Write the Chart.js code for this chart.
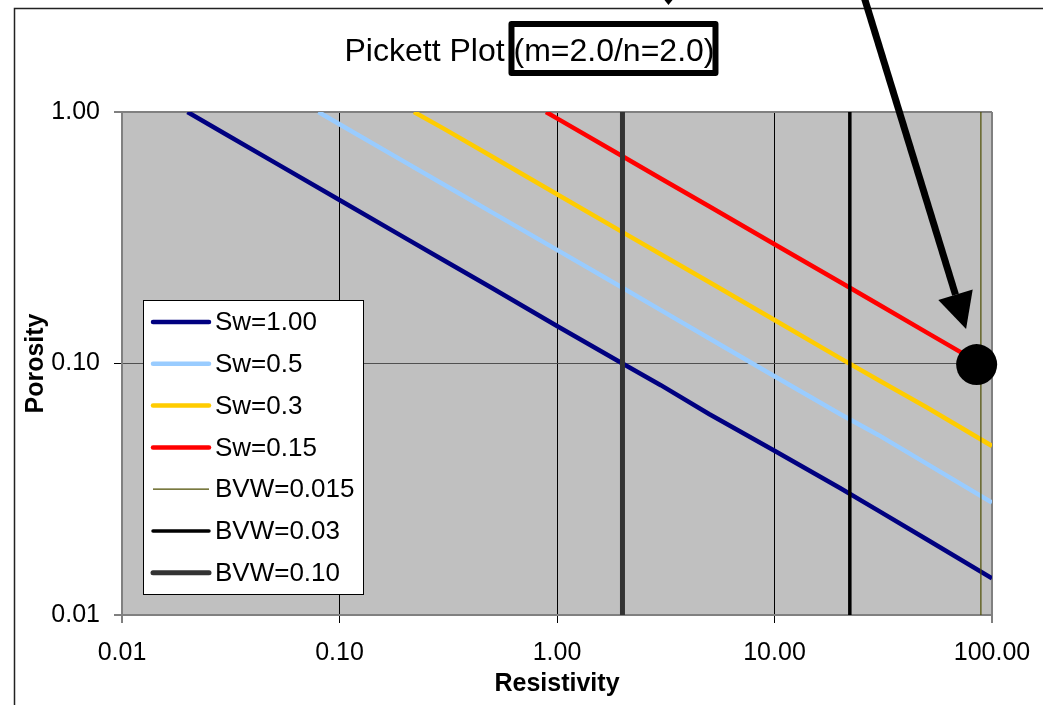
<!DOCTYPE html>
<html>
<head>
<meta charset="utf-8">
<title>Pickett Plot</title>
<script src="https://cdn.jsdelivr.net/npm/chart.js@4.4.1/dist/chart.umd.min.js"></script>
<style>
  html, body { margin: 0; padding: 0; background: #fff; }
  #wrap { width: 1043px; height: 705px; position: relative; }
</style>
</head>
<body>
<div id="wrap"><canvas id="chart"></canvas></div>
<script>
// Values: resistivity (x) vs porosity (y)
const sw100Rt  = [0.02, 0.03, 0.05, 0.1, 0.2, 0.3, 0.5, 1, 2, 3, 5, 10, 20, 30, 50, 100];
const sw100Phi = [1.00, 0.816, 0.632, 0.447, 0.316, 0.258, 0.200, 0.141, 0.100, 0.082, 0.063, 0.045, 0.032, 0.026, 0.020, 0.014];

const sw50Rt  = [0.08, 0.1, 0.2, 0.3, 0.5, 1, 2, 3, 5, 10, 20, 30, 50, 100];
const sw50Phi = [1.00, 0.894, 0.632, 0.516, 0.400, 0.283, 0.200, 0.163, 0.126, 0.089, 0.063, 0.052, 0.040, 0.028];

const sw30Rt  = [0.22, 0.3, 0.5, 1, 2, 3, 5, 10, 20, 30, 50, 100];
const sw30Phi = [1.00, 0.861, 0.667, 0.471, 0.333, 0.272, 0.211, 0.149, 0.105, 0.086, 0.067, 0.047];

const sw15Rt  = [0.89, 1, 2, 3, 5, 10, 20, 30, 50, 80];
const sw15Phi = [1.00, 0.943, 0.667, 0.544, 0.422, 0.298, 0.211, 0.172, 0.133, 0.105];

// bulk volume water lines are vertical on this plot
const bvw015Rt = [88.9, 88.9];
const bvw03Rt  = [22.2, 22.2];
const bvw10Rt  = [2.0, 2.0];
const bvwPhi   = [0.01, 1.00];

// the marked point and the arrow pointing at it
const markRt = [85];
const markPhi = [0.099];
const arrowTip = { x: 76, y: 0.137 };
const arrowTail = { x: 25.8, y: 2.87 };

const xTicks = [0.01, 0.1, 1, 10, 100];
const xTickLabels = ['0.01', '0.10', '1.00', '10.00', '100.00'];
const yTicks = [0.01, 0.1, 1];
const yTickLabels = ['0.01', '0.10', '1.00'];

const titleMain = 'Pickett Plot';
const titleBoxed = '(m=2.0/n=2.0)';

const FONT = "'Liberation Sans', Arial, sans-serif";

function pts(xs, ys) {
  return xs.map((x, i) => ({ x: x, y: ys[i] }));
}

function line(label, xs, ys, color, width, order) {
  return {
    label: label,
    data: pts(xs, ys),
    showLine: true,
    borderColor: color,
    backgroundColor: color,
    borderWidth: width,
    pointRadius: 0,
    tension: 0,
    order: order
  };
}

// white page, grey plot area and the outer frame
const paper = {
  id: 'paper',
  beforeDraw(chart) {
    const { ctx, chartArea: a, width, height } = chart;
    ctx.save();
    ctx.fillStyle = '#fff';
    ctx.fillRect(0, 0, width, height);
    ctx.fillStyle = '#c0c0c0';
    ctx.fillRect(a.left, a.top, a.right - a.left, a.bottom - a.top);
    ctx.strokeStyle = '#222';
    ctx.lineWidth = 1.5;
    ctx.beginPath();
    ctx.moveTo(14.5, height);
    ctx.lineTo(14.5, 8.5);
    ctx.lineTo(width, 8.5);
    ctx.stroke();
    ctx.restore();
  }
};

// boxed legend sitting inside the plot area
const boxLegend = {
  id: 'boxLegend',
  afterDatasetsDraw(chart) {
    const { ctx, chartArea: a } = chart;
    const items = chart.data.datasets.filter(d => d.label);
    const left = a.left + 21, top = a.top + 188;
    const w = 220, h = 294, rowH = 41.8;
    ctx.save();
    ctx.fillStyle = '#fff';
    ctx.fillRect(left, top, w, h);
    ctx.strokeStyle = '#000';
    ctx.lineWidth = 1;
    ctx.strokeRect(left + 0.5, top + 0.5, w, h);
    ctx.font = '26px ' + FONT;
    ctx.textBaseline = 'middle';
    ctx.fillStyle = '#000';
    items.forEach((d, i) => {
      const y = top + 22 + i * rowH;
      ctx.strokeStyle = d.borderColor;
      ctx.lineWidth = d.borderWidth;
      ctx.lineCap = d.borderWidth > 2 ? 'round' : 'butt';
      ctx.beginPath();
      ctx.moveTo(left + 10, y);
      ctx.lineTo(left + 66, y);
      ctx.stroke();
      ctx.fillText(d.label, left + 72, y + 1);
    });
    ctx.restore();
  }
};

// title with its boxed part, plus the arrows
const notes = {
  id: 'notes',
  afterDraw(chart) {
    const ctx = chart.ctx;
    ctx.save();
    ctx.font = '32px ' + FONT;
    ctx.fillStyle = '#000';
    ctx.textBaseline = 'alphabetic';
    const w1 = ctx.measureText(titleMain + ' ').width;
    const w2 = ctx.measureText(titleBoxed).width;
    const cx = (14 + chart.width + 2) / 2;
    const x0 = cx - (w1 + w2) / 2;
    ctx.fillText(titleMain + ' ', x0, 61);
    ctx.fillText(titleBoxed, x0 + w1, 61);
    ctx.lineWidth = 6;
    ctx.strokeStyle = '#000';
    ctx.lineJoin = 'round';
    const bx0 = x0 + w1 - 2, bw = w2 + 3;
    ctx.strokeRect(bx0, 24, bw, 49);

    // small arrow coming from above toward the title box
    const ax = bx0 + bw - 47;
    ctx.beginPath();
    ctx.moveTo(ax - 4, 0);
    ctx.lineTo(ax + 4, 0);
    ctx.lineTo(ax, 5);
    ctx.closePath();
    ctx.fill();

    // big arrow pointing at the marked point
    const xs = chart.scales.x, ys = chart.scales.y;
    const tx = xs.getPixelForValue(arrowTip.x), ty = ys.getPixelForValue(arrowTip.y);
    const sx = xs.getPixelForValue(arrowTail.x), sy = ys.getPixelForValue(arrowTail.y);
    const ang = Math.atan2(ty - sy, tx - sx);
    const headLen = 36, headW = 18;
    const hx = tx - headLen * Math.cos(ang), hy = ty - headLen * Math.sin(ang);
    ctx.lineWidth = 7;
    ctx.lineCap = 'butt';
    ctx.beginPath();
    ctx.moveTo(sx, sy);
    ctx.lineTo(hx, hy);
    ctx.stroke();
    ctx.beginPath();
    ctx.moveTo(tx, ty);
    ctx.lineTo(hx + headW * Math.sin(ang), hy - headW * Math.cos(ang));
    ctx.lineTo(hx - headW * Math.sin(ang), hy + headW * Math.cos(ang));
    ctx.closePath();
    ctx.fill();
    ctx.restore();
  }
};

const edge = '#808080';

new Chart(document.getElementById('chart'), {
  type: 'scatter',
  data: {
    datasets: [
      line('Sw=1.00', sw100Rt, sw100Phi, '#000080', 4.5, 3),
      line('Sw=0.5', sw50Rt, sw50Phi, '#99ccff', 4.5, 3),
      line('Sw=0.3', sw30Rt, sw30Phi, '#ffcc00', 4.5, 3),
      line('Sw=0.15', sw15Rt, sw15Phi, '#ff0000', 4.5, 3),
      line('BVW=0.015', bvw015Rt, bvwPhi, '#4d4d00', 1.2, 2),
      line('BVW=0.03', bvw03Rt, bvwPhi, '#000000', 3.5, 2),
      line('BVW=0.10', bvw10Rt, bvwPhi, '#333333', 5, 2),
      {
        data: pts(markRt, markPhi),
        pointRadius: 20.5,
        pointBackgroundColor: '#000',
        pointBorderWidth: 0,
        showLine: false,
        clip: false,
        order: 1
      }
    ]
  },
  options: {
    responsive: true,
    maintainAspectRatio: false,
    devicePixelRatio: 1,
    animation: false,
    events: [],
    layout: { padding: { top: 112, right: 51, left: 0, bottom: 0 } },
    plugins: {
      legend: { display: false },
      title: { display: false },
      tooltip: { enabled: false }
    },
    scales: {
      x: {
        type: 'logarithmic',
        min: 0.01,
        max: 100,
        afterBuildTicks: s => { s.ticks = xTicks.map(v => ({ value: v })); },
        afterFit: s => { s.height = 90; s.paddingLeft = 0; s.paddingRight = 0; },
        ticks: {
          callback: (v, i) => xTickLabels[i],
          font: { family: FONT, size: 25 },
          color: '#000',
          padding: 15,
          maxRotation: 0,
          autoSkip: false
        },
        grid: {
          color: c => (c.tick && (c.tick.value === 0.01 || c.tick.value === 100)) ? edge : '#000',
          lineWidth: c => (c.tick && (c.tick.value === 0.01 || c.tick.value === 100)) ? 2 : 1,
          tickLength: 8,
          tickColor: '#000',
          tickWidth: 1
        },
        border: { color: edge, width: 2 },
        title: {
          display: true,
          text: 'Resistivity',
          font: { family: FONT, size: 25, weight: 'bold' },
          color: '#000',
          padding: { top: 0, bottom: 6 }
        }
      },
      y: {
        type: 'logarithmic',
        min: 0.01,
        max: 1,
        afterBuildTicks: s => { s.ticks = yTicks.map(v => ({ value: v })); },
        afterFit: s => { s.width = 122; s.paddingTop = 0; s.paddingBottom = 0; },
        ticks: {
          callback: (v, i) => yTickLabels[i],
          font: { family: FONT, size: 25 },
          color: '#000',
          padding: 14
        },
        grid: {
          color: c => (c.tick && c.tick.value === 0.1) ? '#505050' : edge,
          lineWidth: c => (c.tick && c.tick.value === 0.1) ? 1 : 2,
          tickLength: 8,
          tickColor: '#000',
          tickWidth: 1
        },
        border: { color: edge, width: 2 },
        title: {
          display: true,
          text: 'Porosity',
          font: { family: FONT, size: 25, weight: 'bold' },
          color: '#000',
          padding: { top: 21, bottom: 0 }
        }
      }
    }
  },
  plugins: [paper, boxLegend, notes]
});
</script>
</body>
</html>
